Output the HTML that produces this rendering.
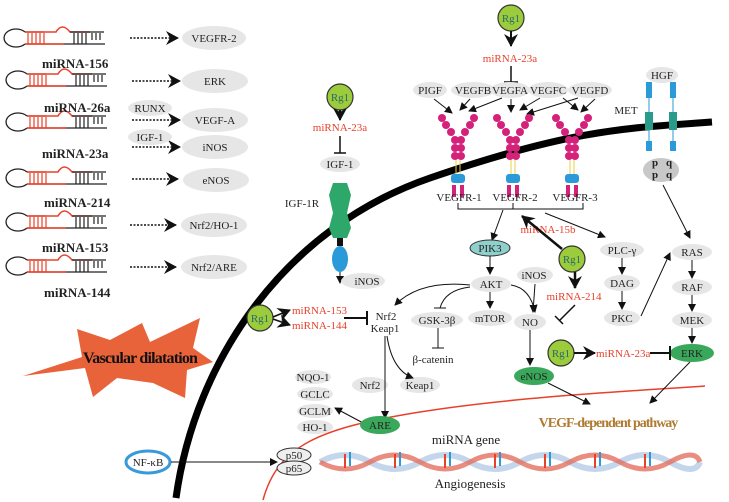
<!DOCTYPE html>
<html><head><meta charset="utf-8"><style>
html,body{margin:0;padding:0;background:#fff}
svg{display:block}
text{font-family:"Liberation Serif",serif;font-size:11px;fill:#222}
.r{fill:#e8402a}
.b{font-weight:bold;font-size:13px}
</style></head><body>
<svg width="729" height="502" viewBox="0 0 729 502" xmlns="http://www.w3.org/2000/svg">
<defs>
<marker id="a" markerWidth="8" markerHeight="8" refX="7" refY="4" orient="auto" markerUnits="userSpaceOnUse"><path d="M0,0 L8,4 L0,8 z" fill="#111"/></marker>
<marker id="A" markerWidth="14" markerHeight="14" refX="12" refY="7" orient="auto" markerUnits="userSpaceOnUse"><path d="M0,0 L13,7 L0,14 L4,7 z" fill="#111"/></marker>
<g id="hp">
<path d="M25,-6 A12,9 0 1 0 25,6" fill="none" stroke="#222" stroke-width="1.3"/>
<path d="M25,-6 H44 M25,6 H105" stroke="#222" stroke-width="1.3" fill="none"/>
<path d="M25,-6 H44 M25,6 H64" stroke="#e8402a" stroke-width="1.5"/>
<path d="M28,-5V6M32,-5V6M36,-5V6M40,-5V6M44,-5V6" stroke="#e8402a" stroke-width="1.2"/>
<path d="M44,-6 Q54,-6 56,-6 Q62,-16 70,-6 H90" stroke="#e8402a" stroke-width="1.5" fill="none"/>
<path d="M74,-5V6M78,-5V6M82,-5V6M86,-5V6M92,-5V2M96,-5V2M100,-5V2" stroke="#222" stroke-width="1.2"/>
<path d="M70,-6 H104" stroke="#222" stroke-width="1.2"/>
</g>
<g id="rg"><circle r="13" fill="#9ccc3c" stroke="#333" stroke-width="1.2"/><text x="0" y="4" text-anchor="middle" style="fill:#2a6a6a;font-size:11px">Rg1</text></g>
<g id="yr">
<g fill="#d4217a"><circle cx="-16" cy="-22" r="4"/><circle cx="-12" cy="-15" r="4"/><circle cx="-7" cy="-8" r="4"/><circle cx="16" cy="-22" r="4"/><circle cx="12" cy="-15" r="4"/><circle cx="7" cy="-8" r="4"/>
<circle cx="-3" cy="0" r="4"/><circle cx="3" cy="0" r="4"/><circle cx="-3" cy="8" r="4"/><circle cx="3" cy="8" r="4"/><circle cx="-3" cy="16" r="4"/><circle cx="3" cy="16" r="4"/>
<rect x="-6" y="45" width="4" height="12"/><rect x="2" y="45" width="4" height="12"/></g>
<path d="M-2,20V36M2,20V36" stroke="#e8d040" stroke-width="1"/>
<rect x="-7" y="34" width="14" height="9" rx="3" fill="#2a9ad8"/>
</g>
</defs>

<!-- membrane -->
<path d="M176,498 C195,360 285,228 430,178 S630,128 712,122" fill="none" stroke="#000" stroke-width="7"/>
<!-- nucleus -->
<path d="M263,500 C278,445 320,428 420,412 S650,390 705,386" fill="none" stroke="#e8402a" stroke-width="1.5"/>

<!-- left miRNA list -->
<use href="#hp" x="0" y="38"/><use href="#hp" x="2" y="80"/><use href="#hp" x="2" y="122"/><use href="#hp" x="2" y="178"/><use href="#hp" x="2" y="222"/><use href="#hp" x="2" y="266"/>
<text class="b" x="42" y="68">miRNA-156</text><text class="b" x="44" y="112">miRNA-26a</text><text class="b" x="42" y="158">miRNA-23a</text><text class="b" x="44" y="207">miRNA-214</text><text class="b" x="42" y="252">miRNA-153</text><text class="b" x="44" y="297">miRNA-144</text>
<g stroke="#111" stroke-width="1.5" stroke-dasharray="2,1.5" marker-end="url(#A)">
<line x1="130" y1="38" x2="178" y2="38"/><line x1="132" y1="81" x2="180" y2="81"/><line x1="132" y1="120" x2="180" y2="120"/><line x1="132" y1="147" x2="180" y2="147"/><line x1="132" y1="179" x2="178" y2="179"/><line x1="130" y1="225" x2="176" y2="225"/><line x1="130" y1="267" x2="176" y2="267"/></g>
<g fill="#e6e6e6"><ellipse cx="214" cy="38" rx="32" ry="12"/><ellipse cx="215" cy="81" rx="33" ry="12"/><ellipse cx="215" cy="120" rx="33" ry="12"/><ellipse cx="215" cy="147" rx="33" ry="12"/><ellipse cx="216" cy="180" rx="33" ry="12"/><ellipse cx="214" cy="225" rx="33" ry="12"/><ellipse cx="214" cy="267" rx="33" ry="12"/>
<ellipse cx="150" cy="108" rx="22" ry="8"/><ellipse cx="150" cy="137" rx="22" ry="8"/></g>
<g text-anchor="middle"><text x="214" y="42">VEGFR-2</text><text x="215" y="85">ERK</text><text x="215" y="124">VEGF-A</text><text x="215" y="151">iNOS</text><text x="216" y="184">eNOS</text><text x="214" y="229">Nrf2/HO-1</text><text x="214" y="271">Nrf2/ARE</text><text x="150" y="112">RUNX</text><text x="150" y="141">IGF-1</text></g>

<!-- vascular dilatation -->
<polygon points="23,376 82,357 77,329 110,340 142,323 150,342 200,318 193,348 213,362 187,370 185,398 153,383 117,378 93,397 85,368" fill="#e8623a"/>
<text x="83" y="363" style="font-size:16px;font-weight:bold;letter-spacing:-0.8px;fill:#111">Vascular dilatation</text>

<!-- NF-kB -->
<ellipse cx="148" cy="462" rx="22" ry="11" fill="#fff" stroke="#3a9ad9" stroke-width="3"/>
<text x="148" y="466" text-anchor="middle">NF-κB</text>
<line x1="171" y1="462" x2="277" y2="462" stroke="#111" marker-end="url(#a)"/>
<ellipse cx="294" cy="455" rx="17" ry="7" fill="#eee" stroke="#333"/><ellipse cx="294" cy="468" rx="17" ry="7" fill="#eee" stroke="#333"/>
<text x="294" y="459" text-anchor="middle">p50</text><text x="294" y="472" text-anchor="middle">p65</text>

<!-- DNA -->
<path d="M320,462 q25,-14 50,0 t50,0 t50,0 t50,0 t50,0 t50,0 t50,0 t30,0" fill="none" stroke="#c4d6ec" stroke-width="6"/>
<path d="M320,462 q25,14 50,0 t50,0 t50,0 t50,0 t50,0 t50,0 t50,0 t30,0" fill="none" stroke="#e47060" stroke-width="5" opacity="0.8"/>
<g stroke-width="2"><path d="M345,468V454M395,468V454M445,468V454M495,468V454M545,468V454M595,468V454M645,468V454" stroke="#e8402a"/><path d="M350,466V452M400,466V452M450,466V452M500,466V452M550,466V452M600,466V452M650,466V452" stroke="#2a9ad8"/></g>
<text x="466" y="444" text-anchor="middle" style="font-size:13px">miRNA gene</text>
<text x="470" y="488" text-anchor="middle" style="font-size:13px">Angiogenesis</text>

<!-- IGF column -->
<use href="#rg" x="340" y="97"/>
<line x1="340" y1="110" x2="340" y2="120" stroke="#111" stroke-width="2" marker-end="url(#A)"/>
<text x="340" y="131" class="r" text-anchor="middle">miRNA-23a</text>
<path d="M340,136V153M334,153H346" stroke="#111" stroke-width="1.5"/>
<ellipse cx="340" cy="164" rx="20" ry="8" fill="#e6e6e6"/><text x="340" y="168" text-anchor="middle">IGF-1</text>
<text x="302" y="207" text-anchor="middle">IGF-1R</text>
<path d="M333,183 H347 L351,195 L347,213 L351,228 L347,238 H333 L329,228 L333,213 L329,195 z" fill="#2ea86a"/>
<rect x="337" y="238" width="6" height="8" fill="#111"/>
<ellipse cx="340" cy="259" rx="8" ry="13" fill="#2a9ad8"/>
<line x1="340" y1="272" x2="340" y2="283" stroke="#111" marker-end="url(#a)"/>
<ellipse cx="363" cy="281" rx="22" ry="8" fill="#e6e6e6"/><text x="367" y="285" text-anchor="middle">iNOS</text>

<!-- top VEGF -->
<use href="#rg" x="511" y="18"/>
<line x1="511" y1="31" x2="511" y2="46" stroke="#111" stroke-width="2" marker-end="url(#A)"/>
<text x="510" y="62" class="r" text-anchor="middle">miRNA-23a</text>
<path d="M511,66V82M504,82H518" stroke="#111" stroke-width="1.5"/>
<g fill="#e6e6e6"><ellipse cx="430" cy="90" rx="17" ry="8"/><ellipse cx="473" cy="90" rx="22" ry="8"/><ellipse cx="510" cy="90" rx="20" ry="8"/><ellipse cx="548" cy="90" rx="20" ry="8"/><ellipse cx="590" cy="90" rx="22" ry="8"/></g>
<g text-anchor="middle"><text x="430" y="94">PIGF</text><text x="473" y="94">VEGFB</text><text x="510" y="94">VEGFA</text><text x="548" y="94">VEGFC</text><text x="590" y="94">VEGFD</text></g>
<g stroke="#111" marker-end="url(#a)"><line x1="434" y1="99" x2="452" y2="113"/><line x1="470" y1="99" x2="460" y2="110"/><line x1="502" y1="98" x2="469" y2="111"/><line x1="511" y1="99" x2="511" y2="112"/><line x1="540" y1="98" x2="520" y2="110"/><line x1="578" y1="98" x2="527" y2="114"/><line x1="563" y1="98" x2="578" y2="110"/><line x1="595" y1="99" x2="581" y2="112"/></g>
<use href="#yr" x="458" y="140"/><use href="#yr" x="513" y="140"/><use href="#yr" x="572" y="140"/>
<g text-anchor="middle"><text x="459" y="201">VEGFR-1</text><text x="515" y="201">VEGFR-2</text><text x="575" y="201">VEGFR-3</text></g>
<path d="M458,203V209H583V203M513,203V209" fill="none" stroke="#111"/>
<line x1="503" y1="210" x2="492" y2="240" stroke="#111" marker-end="url(#a)"/>
<line x1="545" y1="213" x2="605" y2="237" stroke="#111" marker-end="url(#a)"/>
<ellipse cx="490" cy="248" rx="20" ry="8" fill="#8fd0cc" stroke="#333"/><text x="490" y="252" text-anchor="middle">PIK3</text>
<text x="548" y="233" class="r" text-anchor="middle">miRNA-15b</text>
<use href="#rg" x="572" y="259"/>
<line x1="562" y1="249" x2="522" y2="216" stroke="#111" stroke-width="2.5" marker-end="url(#A)"/>
<line x1="575" y1="272" x2="575" y2="288" stroke="#111" stroke-width="2.5" marker-end="url(#A)"/>
<text x="574" y="300" class="r" text-anchor="middle">miRNA-214</text>
<path d="M575,305L560,320M555,316L563,324" stroke="#111" stroke-width="1.5"/>

<!-- PI3K path -->
<g fill="#e6e6e6"><ellipse cx="491" cy="284" rx="20" ry="8"/><ellipse cx="490" cy="318" rx="22" ry="8"/><ellipse cx="437" cy="320" rx="26" ry="8"/><ellipse cx="535" cy="275" rx="18" ry="8"/><ellipse cx="530" cy="322" rx="16" ry="8"/><ellipse cx="370" cy="385" rx="18" ry="8"/><ellipse cx="420" cy="385" rx="20" ry="8"/>
<ellipse cx="313" cy="377" rx="18" ry="7"/><ellipse cx="315" cy="394" rx="18" ry="7"/><ellipse cx="315" cy="411" rx="18" ry="7"/><ellipse cx="315" cy="427" rx="18" ry="7"/></g>
<g text-anchor="middle"><text x="491" y="288">AKT</text><text x="490" y="322">mTOR</text><text x="437" y="324">GSK-3β</text><text x="534" y="279">iNOS</text><text x="530" y="326">NO</text><text x="433" y="363">β-catenin</text><text x="386" y="320">Nrf2</text><text x="385" y="332">Keap1</text><text x="370" y="389">Nrf2</text><text x="420" y="389">Keap1</text>
<text x="313" y="381">NQO-1</text><text x="315" y="398">GCLC</text><text x="315" y="415">GCLM</text><text x="315" y="431">HO-1</text></g>
<g stroke="#111" fill="none"><line x1="490" y1="256" x2="490" y2="274" marker-end="url(#a)"/><line x1="490" y1="292" x2="490" y2="308" marker-end="url(#a)"/>
<path d="M470,285 Q420,280 395,305" marker-end="url(#a)"/><path d="M470,287 Q445,290 440,308M434,308H446"/>
<path d="M438,328V348M432,348H444"/>
<path d="M511,285 Q530,288 535,312" marker-end="url(#a)"/><line x1="535" y1="284" x2="533" y2="312" marker-end="url(#a)"/>
<line x1="530" y1="330" x2="530" y2="365" marker-end="url(#a)"/>
<line x1="385" y1="336" x2="385" y2="418" marker-end="url(#a)"/><path d="M387,336 Q392,370 413,378" marker-end="url(#a)"/>
<line x1="365" y1="424" x2="335" y2="408" marker-end="url(#a)"/>
<line x1="548" y1="383" x2="590" y2="404" marker-end="url(#a)"/><line x1="690" y1="362" x2="650" y2="403" marker-end="url(#a)"/></g>
<ellipse cx="534" cy="376" rx="20" ry="9" fill="#3aa85a"/><text x="534" y="380" text-anchor="middle">eNOS</text>
<ellipse cx="380" cy="425" rx="20" ry="9" fill="#3aa85a"/><text x="380" y="429" text-anchor="middle">ARE</text>
<text x="608" y="427" text-anchor="middle" style="font-size:14px;fill:#b07a30;font-weight:bold;letter-spacing:-1px">VEGF-dependent pathway</text>

<!-- Rg1 miRNA-153/144 -->
<use href="#rg" x="260" y="318"/>
<g stroke="#111" stroke-width="1.5"><line x1="273" y1="317" x2="290" y2="310" marker-end="url(#A)"/><line x1="273" y1="319" x2="290" y2="325" marker-end="url(#A)"/></g>
<text x="292" y="314" class="r">miRNA-153</text><text x="292" y="329" class="r">miRNA-144</text>
<path d="M344,318H367M367,311V325" stroke="#111" stroke-width="2"/>

<!-- MET -->
<ellipse cx="662" cy="75" rx="16" ry="8" fill="#e6e6e6"/><text x="662" y="79" text-anchor="middle">HGF</text>
<text x="626" y="114" text-anchor="middle">MET</text>
<g fill="#2a9ad8"><rect x="646" y="82" width="6" height="16"/><rect x="670" y="82" width="6" height="16"/><rect x="646" y="141" width="6" height="10"/><rect x="670" y="141" width="6" height="10"/></g>
<path d="M649,98V141M673,98V141" stroke="#2a9ad8"/>
<g fill="#2a9a8a"><rect x="645" y="112" width="8" height="18"/><rect x="669" y="112" width="8" height="18"/></g>
<ellipse cx="661" cy="170" rx="18" ry="12" fill="#c8c8c8"/>
<g style="font-size:10px;fill:#1a6ab0;font-weight:bold"><text x="652" y="166">p</text><text x="652" y="178">p</text><text x="666" y="166">q</text><text x="666" y="178">q</text></g>
<line x1="663" y1="185" x2="690" y2="238" stroke="#111" marker-end="url(#a)"/>

<!-- RAS / PLC -->
<g fill="#e6e6e6"><ellipse cx="692" cy="252" rx="20" ry="8"/><ellipse cx="692" cy="287" rx="20" ry="8"/><ellipse cx="692" cy="320" rx="20" ry="8"/><ellipse cx="622" cy="250" rx="22" ry="8"/><ellipse cx="622" cy="283" rx="18" ry="8"/><ellipse cx="622" cy="318" rx="18" ry="8"/></g>
<ellipse cx="692" cy="353" rx="22" ry="9" fill="#3aa85a"/>
<g text-anchor="middle"><text x="692" y="256">RAS</text><text x="692" y="291">RAF</text><text x="692" y="324">MEK</text><text x="692" y="357">ERK</text><text x="622" y="254">PLC-γ</text><text x="622" y="287">DAG</text><text x="622" y="322">PKC</text></g>
<g stroke="#111"><line x1="692" y1="260" x2="692" y2="278" marker-end="url(#a)"/><line x1="692" y1="295" x2="692" y2="311" marker-end="url(#a)"/><line x1="692" y1="328" x2="692" y2="343" marker-end="url(#a)"/>
<line x1="622" y1="258" x2="622" y2="274" marker-end="url(#a)"/><line x1="622" y1="291" x2="622" y2="309" marker-end="url(#a)"/><line x1="641" y1="316" x2="670" y2="253" marker-end="url(#a)"/></g>
<use href="#rg" x="561" y="353"/>
<line x1="574" y1="353" x2="595" y2="353" stroke="#111" stroke-width="2" marker-end="url(#A)"/>
<text x="596" y="357" class="r">miRNA-23a</text>
<path d="M650,353H670M670,346V360" stroke="#111" stroke-width="2"/>
</svg>
</body></html>
